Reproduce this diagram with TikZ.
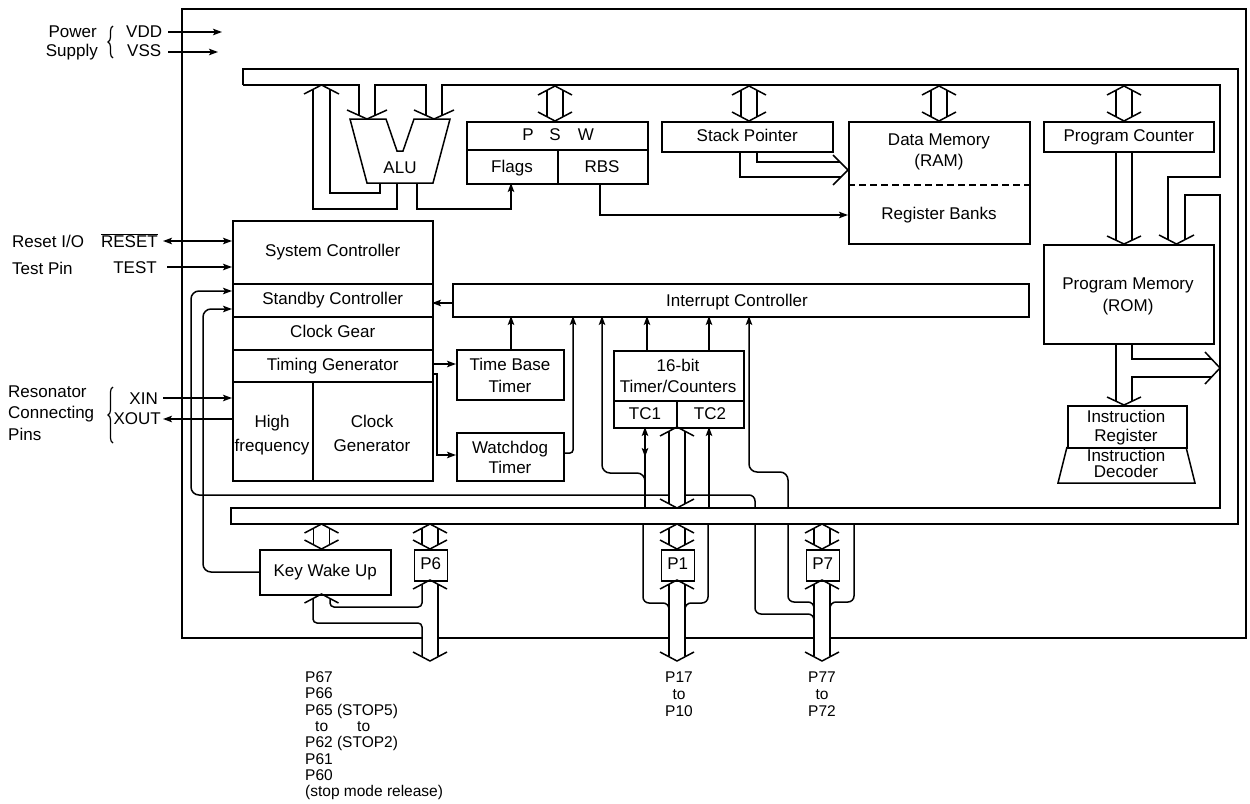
\documentclass[tikz,border=0pt]{standalone}
\usepackage{fontspec}
\setmainfont{Liberation Sans}
\usetikzlibrary{arrows.meta,decorations.pathreplacing}
\tikzset{
  wire/.style={line width=1.5pt, line join=miter},
  arr/.style={wire, -{Stealth[length=9pt,width=6.5pt,inset=2pt]}},
  darr/.style={wire, {Stealth[length=9pt,width=6.5pt,inset=2pt]}-{Stealth[length=9pt,width=6.5pt,inset=2pt]}},
  box/.style={draw, line width=1.5pt, inner sep=0pt, anchor=north west, font=\fontsize{17}{20}\selectfont, text height=12pt, text depth=3.5pt},
  lbl/.style={inner sep=0pt, font=\fontsize{17}{20}\selectfont, text height=12pt, text depth=3.5pt},
  sml/.style={inner sep=0pt, font=\fontsize{15.5}{18}\selectfont, text height=11pt, text depth=3pt},
  brc/.style={line width=1.2pt, decorate, decoration={brace, amplitude=5pt}},
}
% vertical hollow double arrow: centre x, top tip y, bottom tip y
\newcommand{\hollowdv}[3]{%
  \draw[wire] ({#1-17},{#2+9}) -- (#1,#2) -- ({#1+17},{#2+9});
  \draw[wire] ({#1-17},{#3-9}) -- (#1,#3) -- ({#1+17},{#3-9});
  \draw[wire] ({#1-8},{#2+4.3}) -- ({#1-8},{#3-4.3});
  \draw[wire] ({#1+8},{#2+4.3}) -- ({#1+8},{#3-4.3});
}
\begin{document}
\begin{tikzpicture}[x=1pt,y=-1pt]
\fill[white] (0,0) rectangle (1250,803);
\useasboundingbox (0,0) rectangle (1250,803);

% ---------- chip border ----------
\draw[line width=2.8pt] (422,638) -- (182,638) -- (182,9) -- (1246,9) -- (1246,638) -- (830,638);
\draw[line width=2.8pt] (814,638) -- (685,638);
\draw[line width=2.8pt] (669,638) -- (438,638);

% ---------- power supply ----------
\node[lbl, anchor=east] (pwr) at (97,33) {Power};
\node[lbl, anchor=east] (sup) at (98,52) {Supply};
\draw[brc] (113,58) -- (113,26);
\node[lbl, anchor=west] (vdd) at (126,33) {VDD};
\node[lbl, anchor=west] (vss) at (127,52) {VSS};
\draw[arr] (168,32) -- (222,32);
\draw[arr] (168,52) -- (218,52);

% ---------- internal bus loop ----------
\draw[wire] (243,85) -- (243,69) -- (1238,69) -- (1238,524) -- (231,524) -- (231,508) -- (1220,508) -- (1220,195) -- (1185,195) -- (1185,240);
\draw[wire] (243,85) -- (359,85) -- (359,115);
\draw[wire] (375,115) -- (375,85) -- (426,85) -- (426,115);
\draw[wire] (442,115) -- (442,85) -- (1220,85) -- (1220,177) -- (1168,177) -- (1168,240);
\draw[wire] (1159,235) -- (1176.5,244) -- (1194,235);

% ---------- ALU ----------
\draw[wire] (350,119) -- (386,119) -- (397,151) -- (403,151) -- (414,119) -- (450,119) -- (433,183) -- (367,183) -- cycle;
\node[lbl] (alu) at (400,169) {ALU};
\draw[wire] (347,110) -- (367,119) -- (387,110);
\draw[wire] (414,110) -- (434,119) -- (454,110);
% ALU result back to bus
\draw[wire] (397,183) -- (397,209) -- (313,209) -- (313,90);
\draw[wire] (380,183) -- (380,193) -- (330,193) -- (330,90);
\draw[wire] (304,94) -- (321.5,85) -- (339,94);
% ALU to flags
\draw[arr] (417,183) -- (417,209) -- (511,209) -- (511,183);

% ---------- PSW ----------
\node[box, minimum width=181pt, minimum height=62pt] (psw) at (466,121) {};
\draw[wire] (466,150) -- (647,150);
\draw[wire] (558,150) -- (558,183);
\node[lbl] (pswp) at (528,136) {P};
\node[lbl] (psws) at (555,136) {S};
\node[lbl] (psww) at (586,136) {W};
\node[lbl] (flags) at (512,168) {Flags};
\node[lbl] (rbs) at (602,168) {RBS};
\hollowdv{555}{86}{121}
\draw[arr] (600,183) -- (600,215) -- (848,215);

% ---------- Stack pointer ----------
\node[box, minimum width=171pt, minimum height=30pt] (sp) at (661,121) {Stack Pointer};
\hollowdv{749}{86}{121}
\draw[wire] (757,151) -- (757,162) -- (840,162);
\draw[wire] (740,151) -- (740,177) -- (841,177);
\draw[wire] (833,155) -- (848,170) -- (833,185);

% ---------- Data memory ----------
\node[box, minimum width=181pt, minimum height=122pt] (ram) at (848,121) {};
\draw[wire, dash pattern=on 7pt off 4pt] (848,185) -- (1029,185);
\node[lbl] (ramt1) at (939,141) {Data Memory};
\node[lbl] (ramt2) at (939,162) {(RAM)};
\node[lbl] (regb) at (939,215) {Register Banks};
\hollowdv{939}{86}{121}

% ---------- Program counter / ROM ----------
\node[box, minimum width=170pt, minimum height=30pt] (pc) at (1043,121) {Program Counter};
\hollowdv{1124}{86}{121}
\draw[wire] (1116,151) -- (1116,240);
\draw[wire] (1132,151) -- (1132,240);
\draw[wire] (1107,236) -- (1124,244) -- (1141,236);
\node[box, minimum width=170pt, minimum height=99pt] (rom) at (1043,244) {};
\node[lbl] (romt1) at (1128,285) {Program Memory};
\node[lbl] (romt2) at (1128,307) {(ROM)};
% ROM to IR and to bus
\draw[wire] (1116,343) -- (1116,401);
\draw[wire] (1132,343) -- (1132,359) -- (1211.6,359);
\draw[wire] (1211.6,377) -- (1132,377) -- (1132,401);
\draw[wire] (1107,397) -- (1124,405) -- (1141,397);
\draw[wire] (1205,352) -- (1220,368) -- (1205,384);

% ---------- Instruction register / decoder ----------
\node[box, minimum width=119pt, minimum height=42pt] (ir) at (1067,405) {};
\node[lbl] (irt1) at (1126,418) {Instruction};
\node[lbl] (irt2) at (1126,437) {Register};
\draw[wire] (1067,447) -- (1058,483) -- (1195,483) -- (1186,447);
\node[lbl] (idt1) at (1126,457) {Instruction};
\node[lbl] (idt2) at (1126,473) {Decoder};

% ---------- Left controller column ----------
\node[box, minimum width=200pt, minimum height=63pt] (sysc) at (232,220) {System Controller};
\node[box, minimum width=200pt, minimum height=33pt] (stby) at (232,283) {Standby Controller};
\node[box, minimum width=200pt, minimum height=33pt] (cgear) at (232,316) {Clock Gear};
\node[box, minimum width=200pt, minimum height=32pt] (tgen) at (232,349) {Timing Generator};
\node[box, minimum width=200pt, minimum height=99pt] (cgen) at (232,381) {};
\draw[wire] (313,381) -- (313,480);
\node[lbl] (hf1) at (272,423) {High};
\node[lbl] (hf2) at (272,447) {frequency};
\node[lbl] (cg1) at (372,423) {Clock};
\node[lbl] (cg2) at (372,447) {Generator};

% ---------- external pins on the left ----------
\node[lbl, anchor=west] (rstl) at (12,243) {Reset I/O};
\node[lbl, anchor=east] (rst) at (158,243) {$\overline{\hbox{RESET}}$};
\draw[darr] (163,241) -- (232,241);
\node[lbl, anchor=west] (tstl) at (12,270) {Test Pin};
\node[lbl, anchor=east] (tst) at (157,269) {TEST};
\draw[arr] (167,267) -- (232,267);
\node[lbl, anchor=west] (res1) at (8,393) {Resonator};
\node[lbl, anchor=west] (res2) at (8,414) {Connecting};
\node[lbl, anchor=west] (res3) at (8,436) {Pins};
\draw[brc] (113,443) -- (113,387);
\node[lbl, anchor=east] (xin) at (158,400) {XIN};
\node[lbl, anchor=east] (xout) at (161,420) {XOUT};
\draw[arr] (163,398) -- (232,398);
\draw[arr] (232,419) -- (163,419);

% ---------- Interrupt controller and timers ----------
\node[box, minimum width=576pt, minimum height=33pt] (ic) at (452,283) {};
\node[lbl] (ict) at (737,302) {Interrupt Controller};
\draw[arr] (452,303) -- (432,303);
\node[box, minimum width=107pt, minimum height=50pt] (tbt) at (456,349) {};
\node[lbl] (tbt1) at (510,366) {Time Base};
\node[lbl] (tbt2) at (510,388) {Timer};
\node[box, minimum width=107pt, minimum height=48pt] (wdt) at (456,432) {};
\node[lbl] (wdt1) at (510,449) {Watchdog};
\node[lbl] (wdt2) at (510,469) {Timer};
\draw[arr] (432,364) -- (456,364);
\draw[arr] (432,374) -- (437,374) -- (437,455) -- (456,455);
\draw[arr] (511,349) -- (511,316);
\draw[arr, rounded corners=3pt] (563,453) -- (573,453) -- (573,316);

\node[box, minimum width=130pt, minimum height=77pt] (tc) at (613,350) {};
\draw[wire] (613,401) -- (743,401);
\draw[wire] (677,401) -- (677,427);
\node[lbl] (tct1) at (678,367) {16-bit};
\node[lbl] (tct2) at (678,388) {Timer/Counters};
\node[lbl] (tc1) at (645,415) {TC1};
\node[lbl] (tc2) at (710,415) {TC2};
\draw[arr] (647,350) -- (647,316);
\draw[arr] (709,350) -- (709,316);
\draw[arr] (645,508) -- (645,427);
\draw[arr] (645,444) -- (645,457);
\draw[arr] (709,508) -- (709,427);
\draw[arr, rounded corners=8pt] (645,486) -- (645,473) -- (602,473) -- (602,316);
\draw[arr, rounded corners=8pt] (788,508) -- (788,472) -- (749,472) -- (749,316);
\hollowdv{677}{427}{508}

% standby wake-up lines
\draw[arr, rounded corners=8pt] (668,495) -- (191,495) -- (191,291) -- (232,291);
\draw[wire, rounded corners=6pt] (685,495) -- (755,495) -- (755,508);
\draw[arr, rounded corners=8pt] (259,572) -- (203,572) -- (203,309) -- (232,309);

% ---------- ports ----------
\node[box, minimum width=131pt, minimum height=45pt] (kwu) at (259,549) {Key Wake Up};
\node[box, minimum width=33pt, minimum height=31pt] (p6) at (413.5,549) {P6};
\node[box, minimum width=33pt, minimum height=31pt] (p1) at (660.5,549) {P1};
\node[box, minimum width=33pt, minimum height=31pt] (p7) at (805.5,549) {P7};
\hollowdv{321.5}{524}{549}
\hollowdv{430}{524}{549}
\hollowdv{677}{524}{549}
\hollowdv{822}{524}{549}

% P6 pins and key wake up
\draw[wire] (413,589) -- (430,580) -- (447,589);
\draw[wire] (304.5,603) -- (321.5,594) -- (338.5,603);
\draw[wire] (438,584.3) -- (438,656);
\draw[wire, rounded corners=4pt] (422,584.3) -- (422,607) -- (330,607) -- (330,598.5);
\draw[wire, rounded corners=4pt] (313,598.5) -- (313,623) -- (422,623) -- (422,656);
\draw[wire] (413,652) -- (430,661) -- (447,652);

% P1 pins
\draw[wire] (660,589) -- (677,580) -- (694,589);
\draw[wire] (669,584.3) -- (669,656);
\draw[wire] (685,584.3) -- (685,656);
\draw[wire, rounded corners=6pt] (643,524) -- (643,603) -- (669,603) -- (669,614);
\draw[wire, rounded corners=6pt] (708,524) -- (708,603) -- (685,603) -- (685,614);
\draw[wire] (660,652) -- (677,661) -- (694,652);

% P7 pins
\draw[wire] (805,589) -- (822,580) -- (839,589);
\draw[wire] (814,584.3) -- (814,656);
\draw[wire] (830,584.3) -- (830,656);
\draw[wire, rounded corners=6pt] (788,524) -- (788,602) -- (814,602) -- (814,612);
\draw[wire, rounded corners=6pt] (854,524) -- (854,602) -- (830,602) -- (830,612);
\draw[wire, rounded corners=6pt] (755,524) -- (755,614) -- (814,614) -- (814,625);
\draw[wire] (805,652) -- (822,661) -- (839,652);

% ---------- pin labels ----------
\node[sml, anchor=west] (b1) at (305,678) {P67};
\node[sml, anchor=west] (b2) at (305,694.5) {P66};
\node[sml, anchor=west] (b3) at (305,711) {P65 (STOP5)};
\node[sml, anchor=west] (b4) at (315,727) {to};
\node[sml, anchor=west] (b4b) at (357,727) {to};
\node[sml, anchor=west] (b5) at (305,743.5) {P62 (STOP2)};
\node[sml, anchor=west] (b6) at (305,760) {P61};
\node[sml, anchor=west] (b7) at (305,776) {P60};
\node[sml, anchor=west] (b8) at (305,792) {(stop mode release)};
\node[sml] (c1) at (679,678) {P17};
\node[sml] (c2) at (679,695) {to};
\node[sml] (c3) at (679,712) {P10};
\node[sml] (d1) at (822,678) {P77};
\node[sml] (d2) at (822,695) {to};
\node[sml] (d3) at (822,712) {P72};
\end{tikzpicture}
\end{document}
